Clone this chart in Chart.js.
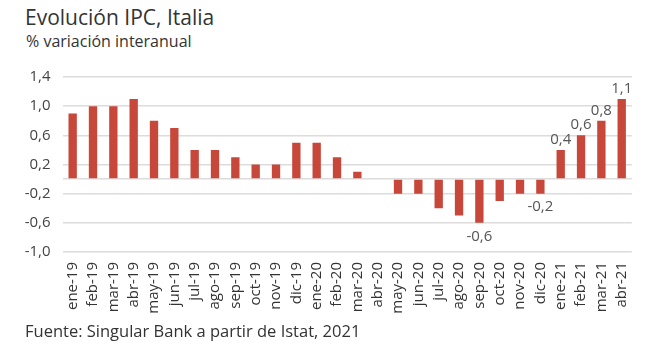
<!DOCTYPE html>
<html>
<head>
<meta charset="utf-8">
<script src="https://cdn.jsdelivr.net/npm/chart.js@4/dist/chart.umd.min.js"></script>
<style>
  html, body { margin: 0; padding: 0; background: #fff; }
  body { width: 650px; height: 351px; position: relative; overflow: hidden; font-family: "Open Sans", sans-serif; color: #333; }
  #title { position: absolute; left: 25px; top: 3px; font-size: 21px; color: #333; white-space: nowrap; }
  #subtitle { position: absolute; left: 26px; top: 30px; font-size: 16px; color: #333; white-space: nowrap; }
  #footer { position: absolute; left: 25px; top: 319px; font-size: 16.5px; color: #333; white-space: nowrap; }
  #wrap { position: absolute; left: 0; top: 55px; width: 650px; height: 265px; }
</style>
</head>
<body>
<div id="title">Evolución IPC, Italia</div>
<div id="subtitle">% variación interanual</div>
<div id="wrap"><canvas id="c"></canvas></div>
<div id="footer">Fuente: Singular Bank a partir de Istat, 2021</div>
<script>
const categories = ['ene-19','feb-19','mar-19','abr-19','may-19','jun-19','jul-19','ago-19','sep-19','oct-19','nov-19','dic-19',
  'ene-20','feb-20','mar-20','abr-20','may-20','jun-20','jul-20','ago-20','sep-20','oct-20','nov-20','dic-20',
  'ene-21','feb-21','mar-21','abr-21'];
const ipcValues = [0.9, 1.0, 1.0, 1.1, 0.8, 0.7, 0.4, 0.4, 0.3, 0.2, 0.2, 0.5,
  0.5, 0.3, 0.1, 0.0, -0.2, -0.2, -0.4, -0.5, -0.6, -0.3, -0.2, -0.2,
  0.4, 0.6, 0.8, 1.1];
const labelledCategories = ['sep-20','dic-20','ene-21','feb-21','mar-21','abr-21'];
const yTickValues = [-1.0, -0.6, -0.2, 0, 0.2, 0.6, 1.0, 1.4];

const fmt = v => (Math.round(v * 10) / 10).toFixed(1).replace('.', ',');

const valueLabels = {
  id: 'valueLabels',
  afterDatasetsDraw(chart) {
    const ctx = chart.ctx;
    const meta = chart.getDatasetMeta(0);
    ctx.save();
    ctx.font = '15px "Open Sans", sans-serif';
    ctx.fillStyle = '#555';
    ctx.textAlign = 'center';
    meta.data.forEach((bar, i) => {
      if (!labelledCategories.includes(categories[i])) return;
      const v = ipcValues[i];
      if (v >= 0) {
        ctx.textBaseline = 'bottom';
        ctx.fillText(fmt(v), bar.x, bar.y - 3);
      } else {
        ctx.textBaseline = 'top';
        ctx.fillText(fmt(v), bar.x, bar.y + 6);
      }
    });
    ctx.restore();
  }
};

new Chart(document.getElementById('c'), {
  type: 'bar',
  data: {
    labels: categories,
    datasets: [{
      data: ipcValues,
      backgroundColor: '#c8473b',
      barPercentage: 0.5,
      categoryPercentage: 0.82
    }]
  },
  plugins: [valueLabels],
  options: {
    responsive: true,
    maintainAspectRatio: false,
    animation: false,
    layout: { padding: { left: 0, right: 16, top: 22, bottom: 0 } },
    plugins: { legend: { display: false }, tooltip: { enabled: false } },
    scales: {
      x: {
        grid: { display: false, drawTicks: false },
        border: { display: false },
        ticks: {
          color: '#333',
          font: { family: '"Open Sans", sans-serif', size: 15 },
          minRotation: 90, maxRotation: 90,
          padding: 10,
          autoSkip: false
        },
        afterFit(scale) { scale.height = 68; }
      },
      y: {
        min: -1.0,
        max: 1.4,
        afterBuildTicks(scale) {
          scale.ticks = yTickValues.map(v => ({ value: v }));
        },
        grid: { color: '#dcdcdc', lineWidth: 1.5, drawTicks: false },
        border: { display: false },
        ticks: {
          color: '#444',
          font: { family: '"Open Sans", sans-serif', size: 15 },
          padding: 12,
          callback(v) { return Math.abs(v) < 1e-9 ? '' : fmt(v); }
        },
        afterFit(scale) { scale.width = 62.5; }
      }
    }
  }
});
</script>
</body>
</html>
